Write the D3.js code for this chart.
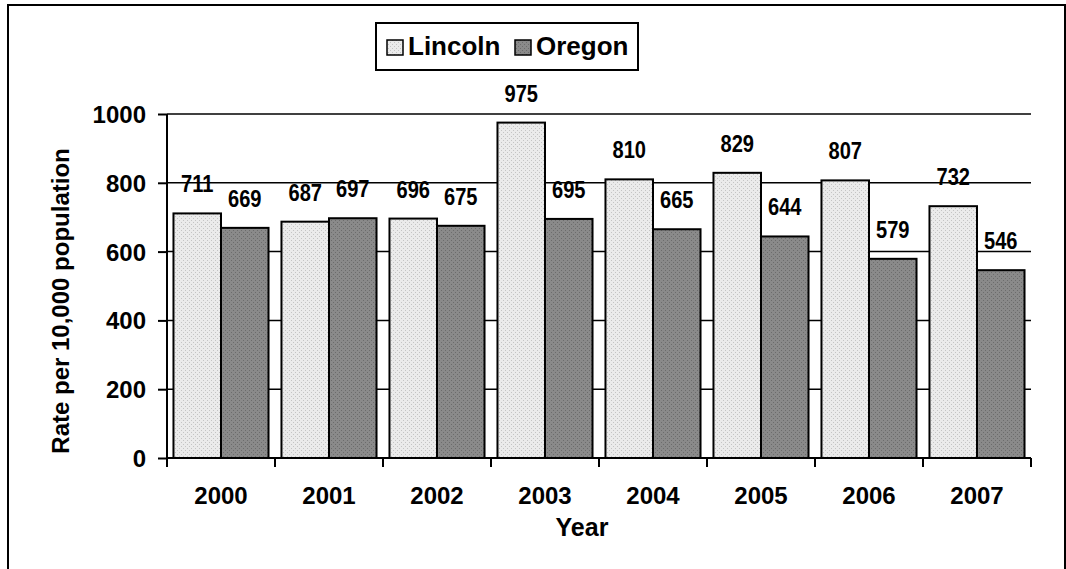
<!DOCTYPE html>
<html>
<head>
<meta charset="utf-8">
<script src="https://cdn.jsdelivr.net/npm/d3@7"></script>
<style>
  html, body { margin: 0; padding: 0; background: #fff; }
  svg { display: block; }
  text { font-family: "Liberation Sans", Arial, sans-serif; font-weight: bold; fill: #000; }
</style>
</head>
<body>
<svg id="chart" width="1066" height="569"></svg>
<script>
// Rate per 10,000 population, Lincoln County vs. Oregon
const years = ["2000", "2001", "2002", "2003", "2004", "2005", "2006", "2007"];
const seriesNames = ["Lincoln", "Oregon"];
const lincoln = [711, 687, 696, 975, 810, 829, 807, 732];
const oregon = [669, 697, 675, 695, 665, 644, 579, 546];
const yTicks = [0, 200, 400, 600, 800, 1000];

const svg = d3.select("#chart");
const margin = { left: 167, right: 35, top: 114, bottom: 111 };
const W = 1066, H = 569;

// fill patterns: fine dotted greys
const defs = svg.append("defs");
function dotPattern(id, base, dot) {
  const p = defs.append("pattern").attr("id", id)
    .attr("width", 4).attr("height", 4).attr("patternUnits", "userSpaceOnUse");
  p.append("rect").attr("width", 4).attr("height", 4).attr("fill", base);
  p.append("rect").attr("x", 0).attr("y", 0).attr("width", 1).attr("height", 1).attr("fill", dot);
  p.append("rect").attr("x", 2).attr("y", 2).attr("width", 1).attr("height", 1).attr("fill", dot);
}
dotPattern("patLincoln", "#ebebeb", "#c4c4c4");
dotPattern("patOregon", "#8a8a8a", "#6c6c6c");
const fills = { Lincoln: "url(#patLincoln)", Oregon: "url(#patOregon)" };

// outer frame
svg.append("rect").attr("x", 8).attr("y", 5).attr("width", 1057).attr("height", 580)
  .attr("fill", "none").attr("stroke", "#000").attr("stroke-width", 2);

const x0 = d3.scaleBand().domain(years).range([margin.left, W - margin.right]).padding(0);
const bw = x0.bandwidth();
const x1 = d3.scaleBand().domain(seriesNames).range([bw * 0.06, bw * 0.94]).padding(0);
const y = d3.scaleLinear().domain([0, 1000]).range([H - margin.bottom, margin.top]);

// horizontal gridlines
svg.append("g").selectAll("line").data(yTicks.filter(d => d > 0)).join("line")
  .attr("x1", x0.range()[0]).attr("x2", x0.range()[1])
  .attr("y1", d => y(d)).attr("y2", d => y(d))
  .attr("stroke", "#000").attr("stroke-width", 1.5);

// bars
const rows = years.map((yr, i) => ({ year: yr, values: [
  { name: "Lincoln", value: lincoln[i] },
  { name: "Oregon", value: oregon[i] }
]}));

const groups = svg.append("g").selectAll("g").data(rows).join("g")
  .attr("transform", d => `translate(${x0(d.year)},0)`);

groups.selectAll("rect").data(d => d.values).join("rect")
  .attr("x", d => x1(d.name)).attr("width", x1.bandwidth())
  .attr("y", d => y(d.value)).attr("height", d => y(0) - y(d.value))
  .attr("fill", d => fills[d.name]).attr("stroke", "#000").attr("stroke-width", 2);

// value labels (narrow bold)
groups.selectAll("text").data(d => d.values).join("text")
  .attr("transform", d => `translate(${x1(d.name) + x1.bandwidth() / 2},${y(d.value) - 21}) scale(0.82,1)`)
  .attr("text-anchor", "middle").attr("font-size", 24.5)
  .text(d => d.value);

// y axis
const yAxis = svg.append("g").attr("transform", `translate(${margin.left},0)`)
  .call(d3.axisLeft(y).tickValues(yTicks).tickSize(9).tickPadding(12).tickFormat(d3.format("d")));
yAxis.select(".domain").attr("stroke", "#000").attr("stroke-width", 2)
  .attr("d", `M0,${y(0)}V${y(1000)}`);
yAxis.selectAll(".tick line").attr("stroke", "#000").attr("stroke-width", 2);
yAxis.selectAll(".tick text").attr("font-size", 24).attr("font-family", null).attr("fill", "#000")
  .attr("dy", "0.35em");

// x axis: ticks at category boundaries
const xAxisG = svg.append("g");
xAxisG.append("line").attr("x1", x0.range()[0]).attr("x2", x0.range()[1])
  .attr("y1", y(0)).attr("y2", y(0)).attr("stroke", "#000").attr("stroke-width", 2);
const boundaries = years.map(d => x0(d)).concat([x0.range()[1]]);
xAxisG.selectAll("line.tk").data(boundaries).join("line").attr("class", "tk")
  .attr("x1", d => d).attr("x2", d => d)
  .attr("y1", y(0)).attr("y2", y(0) + 9).attr("stroke", "#000").attr("stroke-width", 2);
xAxisG.selectAll("text").data(years).join("text")
  .attr("x", d => x0(d) + bw / 2).attr("y", y(0) + 46)
  .attr("text-anchor", "middle").attr("font-size", 24).text(d => d);

// axis titles
svg.append("text").attr("x", 582).attr("y", 536).attr("text-anchor", "middle")
  .attr("font-size", 25).text("Year");
svg.append("text").attr("transform", "translate(69,301) rotate(-90)")
  .attr("text-anchor", "middle").attr("font-size", 24).text("Rate per 10,000 population");

// legend
const lg = svg.append("g");
lg.append("rect").attr("x", 376).attr("y", 23).attr("width", 262).attr("height", 47)
  .attr("fill", "#fff").attr("stroke", "#000").attr("stroke-width", 2);
const legendItems = [
  { name: "Lincoln", sx: 387, tx: 408 },
  { name: "Oregon", sx: 515, tx: 536 }
];
lg.selectAll("rect.sw").data(legendItems).join("rect").attr("class", "sw")
  .attr("x", d => d.sx).attr("y", 40).attr("width", 16).attr("height", 15)
  .attr("fill", d => fills[d.name]).attr("stroke", "#000").attr("stroke-width", 1.5);
lg.selectAll("text").data(legendItems).join("text")
  .attr("x", d => d.tx).attr("y", 55).attr("font-size", 26).text(d => d.name);
</script>
</body>
</html>
